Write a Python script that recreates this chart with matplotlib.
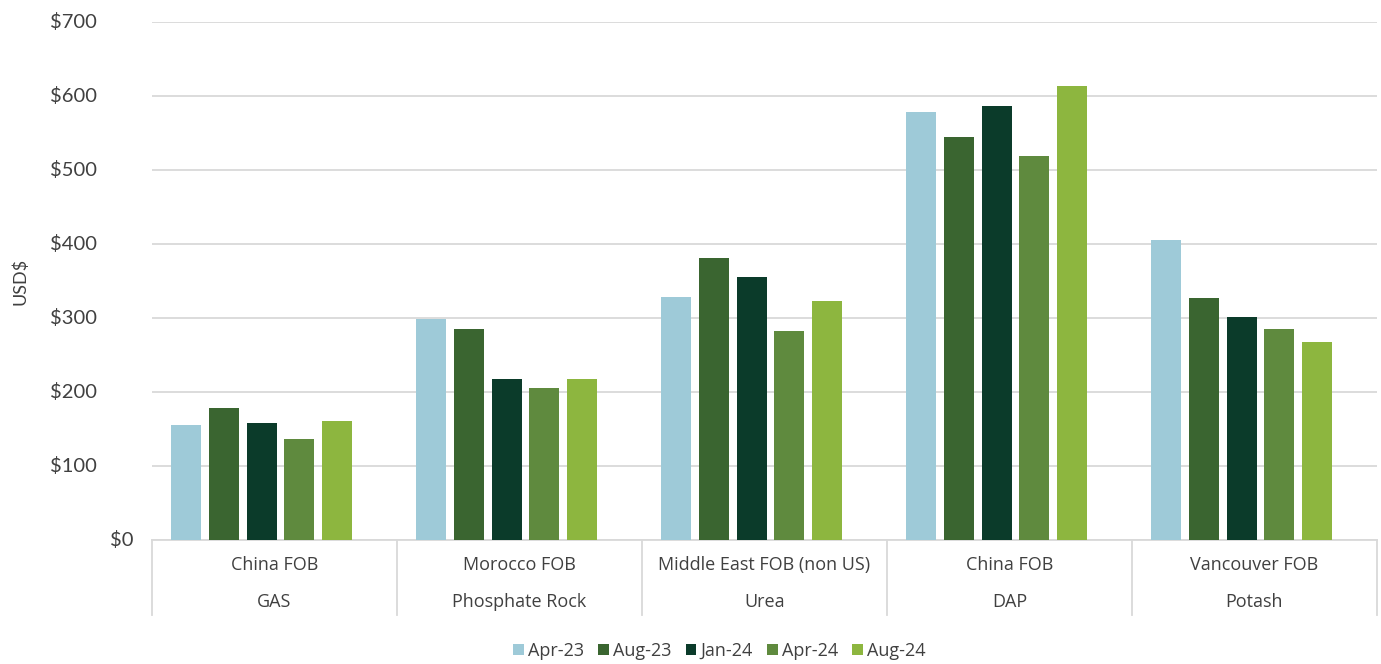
import numpy as np
import matplotlib.pyplot as plt
from matplotlib.patches import Patch

# fertilizer benchmark prices, USD per tonne
products = ["GAS", "Phosphate Rock", "Urea", "DAP", "Potash"]
markets = ["China FOB", "Morocco FOB", "Middle East FOB (non US)", "China FOB", "Vancouver FOB"]
periods = ["Apr-23", "Aug-23", "Jan-24", "Apr-24", "Aug-24"]
y_ticks = [0, 100, 200, 300, 400, 500, 600, 700]

apr_23 = [155, 298, 329, 578, 406]
aug_23 = [179, 285, 381, 545, 327]
jan_24 = [158, 218, 355, 586, 301]
apr_24 = [136, 206, 282, 519, 285]
aug_24 = [161, 218, 323, 614, 267]

colors = ["#9ECAD8", "#3A6530", "#0B3B2A", "#5F8A3E", "#8DB63F"]
text_col = "#404040"
grid_col = "#D9D9D9"

fig = plt.figure(figsize=(13.81, 6.64), dpi=100)
ax = fig.add_axes([0.110, 0.1867, 0.887, 0.7803])

series = [apr_23, aug_23, jan_24, apr_24, aug_24]
x0 = np.arange(len(products))
width = 0.1225
step = 0.154
first = 0.140
for k, (vals, c) in enumerate(zip(series, colors)):
    ax.bar(x0 + first + k * step, vals, width=width, color=c, zorder=3, label=periods[k])

ax.set_xlim(0, len(products))
ax.set_ylim(0, 700)
ax.set_yticks(y_ticks)
ax.set_yticklabels([])
ax.tick_params(axis="y", length=0)
ax.set_xticks([])
ax.grid(axis="y", color=grid_col, linewidth=1.3, zorder=0)
for s in ["top", "right", "left"]:
    ax.spines[s].set_visible(False)
ax.spines["bottom"].set_color(grid_col)
ax.spines["bottom"].set_linewidth(1.3)

# dollar labels, the zero one sits closer to the axis
ytr = ax.get_yaxis_transform()
for v in y_ticks:
    xpos = -0.015 if v == 0 else -0.045
    ax.text(xpos, v, f"${v}", transform=ytr, ha="right", va="center",
            fontsize=14.5, color=text_col, family="Lato")

ax.set_ylabel("USD$", fontsize=13, color=text_col, family="Lato")
ax.yaxis.set_label_coords(-0.101, 0.5)

# two-level category box under the axis
xtr = ax.get_xaxis_transform()
for i in range(len(products) + 1):
    ax.plot([i, i], [0, -0.145], transform=xtr, color=grid_col, lw=1.3, clip_on=False)
for i, (m, p) in enumerate(zip(markets, products)):
    ax.text(i + 0.5, -0.048, m, transform=xtr, ha="center", va="center",
            fontsize=13, color=text_col, family="Open Sans")
    ax.text(i + 0.5, -0.12, p, transform=xtr, ha="center", va="center",
            fontsize=13, color=text_col, family="Open Sans")

handles = [Patch(facecolor=c, label=p) for c, p in zip(colors, periods)]
fig.legend(handles=handles, loc="center", bbox_to_anchor=(0.521, 0.02), ncol=5,
           frameon=False, handlelength=0.6, handleheight=0.6, handletextpad=0.25,
           columnspacing=0.75, prop={"family": "Open Sans", "size": 13},
           labelcolor=text_col)

fig.savefig("out.png", dpi=100)
